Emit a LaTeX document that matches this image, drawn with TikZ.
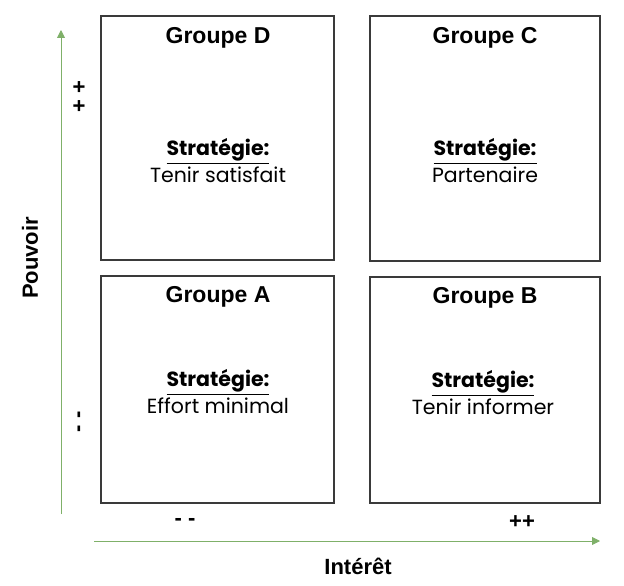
\documentclass[tikz,border=0pt]{standalone}
\usepackage{fontspec}
\setmainfont{Liberation Sans}
\newfontfamily\gothic{Poppins}
\usetikzlibrary{arrows.meta}
\definecolor{axisgreen}{HTML}{7FB069}
\definecolor{boxgray}{HTML}{3A3A3A}
\tikzset{
  quad/.style={draw=boxgray, line width=1.5pt},
  axisline/.style={draw=axisgreen, line width=0.9pt, -{Triangle[length=8pt,width=8pt]}},
  grp/.style={font=\bfseries\fontsize{23}{27}\selectfont},
  strat/.style={align=center, font=\gothic\fontsize{20.5}{27}\selectfont},
  axlab/.style={font=\bfseries\fontsize{22}{26}\selectfont},
}
\begin{document}
\begin{tikzpicture}[x=1pt,y=-1pt]
\useasboundingbox (0,0) rectangle (624,586);
% boxes
\draw[quad] (101,16) rectangle (334,260);
\draw[quad] (370,16) rectangle (600,261);
\draw[quad] (101,276) rectangle (334,503);
\draw[quad] (370,277) rectangle (600,503);
% group labels
\node[grp] (gD) at (218,38) {Groupe D};
\node[grp] (gC) at (485,38) {Groupe C};
\node[grp] (gA) at (218,297) {Groupe A};
\node[grp] (gB) at (485,298) {Groupe B};
% strategies
\node[strat] (sD) at (218,161) {\textbf{\underline{Stratégie:}}\\Tenir satisfait};
\node[strat] (sC) at (485,161) {\textbf{\underline{Stratégie:}}\\Partenaire};
\node[strat] (sA) at (218,392) {\textbf{\underline{Stratégie:}}\\Effort minimal};
\node[strat] (sB) at (483,393) {\textbf{\underline{Stratégie:}}\\Tenir informer};
% axes
\coordinate (yS) at (61,514);
\coordinate (yE) at (61,30);
\coordinate (xS) at (94,541);
\coordinate (xE) at (600,541);
\draw[axisline] (yS) -- (yE);
\draw[axisline] (xS) -- (xE);
% axis labels
\node[axlab, rotate=90] (pouv) at (30,258) {Pouvoir};
\node[axlab] (inter) at (358,566) {Intérêt};
\node[axlab] (mm) at (185,522) {- -};
\node[axlab] (pp) at (522,522) {++};
\node[axlab, rotate=90] (ypp) at (80,97) {+ +};
\node[axlab, rotate=90] (ymm) at (81,422) {- -};
\end{tikzpicture}
\end{document}
